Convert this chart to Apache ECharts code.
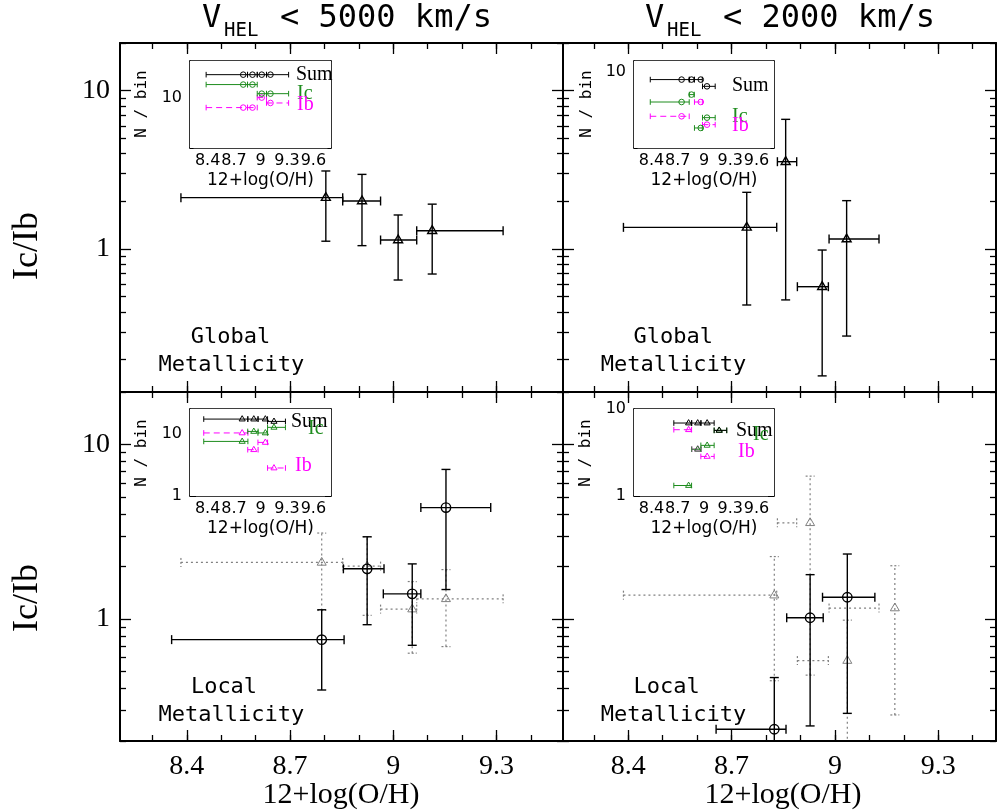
<!DOCTYPE html>
<html><head><meta charset="utf-8">
<script src="https://cdn.jsdelivr.net/npm/echarts@6/dist/echarts.min.js"></script>
<style>html,body{margin:0;padding:0;background:#fff}#c{width:997px;height:810px}</style>
</head><body><div id="c"></div>
<script>
// ---------------- tick values ----------------
const mainXMajor = [8.4, 8.7, 9.0, 9.3];
const mainXMinor = [8.3, 8.4, 8.5, 8.6, 8.7, 8.8, 8.9, 9.0, 9.1, 9.2, 9.3, 9.4];
const insetXMajor = [8.4, 8.7, 9.0, 9.3, 9.6];
const insetXMinor = [8.3, 8.4, 8.5, 8.6, 8.7, 8.8, 8.9, 9.0, 9.1, 9.2, 9.3, 9.4, 9.5, 9.6, 9.7];
const logMajor = [0.1, 1, 10, 100];
const logMinor = [0.2, 0.3, 0.4, 0.5, 0.6, 0.7, 0.8, 0.9, 2, 3, 4, 5, 6, 7, 8, 9, 20, 30, 40];

// ------------- Global metallicity, V_HEL < 5000 km/s -------------
const g5000X = [8.804, 8.909, 9.014, 9.113];
const g5000XLo = [8.383, 8.853, 8.963, 9.068];
const g5000XHi = [8.853, 8.963, 9.068, 9.319];
const g5000Ratio = [2.11, 2.01, 1.14, 1.305];
const g5000RatioLo = [1.12, 1.05, 0.637, 0.695];
const g5000RatioHi = [3.11, 2.96, 1.64, 1.92];
const g5000Sum = [20.7, 20.7, 20.7, 20.7];
const g5000Ic = [15.1, 15.1, 11.3, 11.3];
const g5000Ib = [7.25, 7.25, 9.97, 8.40];

// ------------- Global metallicity, V_HEL < 2000 km/s -------------
const g2000X = [8.744, 8.857, 8.963, 9.034];
const g2000XLo = [8.386, 8.833, 8.891, 8.983];
const g2000XHi = [8.831, 8.889, 8.981, 9.128];
const g2000Ratio = [1.37, 3.56, 0.578, 1.156];
const g2000RatioLo = [0.443, 0.477, 0.158, 0.282];
const g2000RatioHi = [2.28, 6.59, 0.985, 2.02];
const g2000Sum = [8.45, 8.45, 8.45, 7.33];
const g2000Ic = [5.27, 6.16, 3.05, 3.79];
const g2000Ib = [3.90, null, 5.27, 3.27];

// ------------- Local metallicity, V_HEL < 5000 km/s -------------
const l5000X = [8.792, 8.924, 9.055, 9.153];
const l5000XLo = [8.356, 8.855, 8.971, 9.080];
const l5000XHi = [8.857, 8.973, 9.080, 9.283];
const l5000Ratio = [0.762, 1.94, 1.394, 4.35];
const l5000RatioLo = [0.392, 0.928, 0.707, 1.476];
const l5000RatioHi = [1.13, 2.96, 2.07, 7.2];
const l5000Sum = [17.4, 17.4, 17.4, 15.96];
const l5000Ic = [7.59, 11.0, 10.4, 12.8];
const l5000Ib = [10.4, 5.58, 7.32, 2.83];

// ------------- Local metallicity, V_HEL < 2000 km/s -------------
const l2000X = [8.824, 8.928, 9.036, 9.174];
const l2000XLo = [8.655, 8.860, 8.964, 9.116];
const l2000XHi = [8.858, 8.966, 9.116, 9.26];
const l2000Ratio = [0.2336, 1.017, 1.333, null];
const l2000RatioLo = [0.1, 0.244, 0.288, null];
const l2000RatioHi = [0.462, 1.796, 2.358, null];
const l2000Sum = [6.9, 6.9, 6.9, 5.68];
const l2000Ic = [1.32, 3.45, 3.82, 5.68];
const l2000Ib = [5.78, 3.45, 2.85, null];

// ---------------- text ----------------
const titles = ['< 5000 km/s', '< 2000 km/s'];
const axisName = '12+log(O/H)';
const yName = 'Ic/Ib';
const insetYName = 'N / bin';

// ---------------- build ----------------
const GREEN = '#1e8c1e', MAGENTA = '#ff00ff', GRAY = '#808080';
const option = {animation: false, backgroundColor: '#fff', grid: [], xAxis: [], yAxis: [], series: [], graphic: {elements: []}};

const fmt = v => String(Math.round(v * 1000) / 1000);

function addPanel(c) {
  const gi = option.grid.length;
  option.grid.push({left: c.box[0], top: c.box[1], width: c.box[2], height: c.box[3],
    containLabel: false, outerBoundsMode: 'none', show: true, backgroundColor: '#fff', borderWidth: 0, z: c.z || 0});
  const lab = (vals, margin) => ({show: true, customValues: vals, formatter: fmt, margin: margin,
    color: '#000', fontSize: c.labelSize, fontFamily: c.labelFont});
  const xi = option.xAxis.length;
  const xAx = (pos, ticks, len, line, label) => ({
    type: 'value', gridIndex: gi, position: pos, min: c.x[0], max: c.x[1], silent: true,
    splitLine: {show: false}, axisPointer: {show: false},
    axisLine: {show: line, onZero: false, lineStyle: {color: '#000', width: c.frame}},
    axisTick: {show: true, inside: true, length: len, customValues: ticks, lineStyle: {color: '#000', width: c.tickW}},
    axisLabel: label || {show: false}
  });
  option.xAxis.push(xAx('bottom', c.xMajor, c.majLen, true, c.xLabels ? lab(c.xMajor, c.xMargin) : null));
  option.xAxis.push(xAx('bottom', c.xMinor, c.minLen, false));
  option.xAxis.push(xAx('top', c.xMajor, c.majLen, true));
  option.xAxis.push(xAx('top', c.xMinor, c.minLen, false));
  const yi = option.yAxis.length;
  const yAx = (pos, ticks, len, line, label) => ({
    type: 'log', logBase: 10, gridIndex: gi, position: pos, min: c.y[0], max: c.y[1], silent: true,
    splitLine: {show: false}, axisPointer: {show: false},
    axisLine: {show: line, onZero: false, lineStyle: {color: '#000', width: c.frame}},
    axisTick: {show: true, inside: true, length: len, customValues: ticks, lineStyle: {color: '#000', width: c.tickW}},
    axisLabel: label || {show: false}
  });
  option.yAxis.push(yAx('left', logMajor, c.majLen, true, c.yLabels ? lab(logMajor, c.yMargin) : null));
  option.yAxis.push(yAx('left', logMinor, c.minLen, false));
  option.yAxis.push(yAx('right', logMajor, c.majLen, true));
  option.yAxis.push(yAx('right', logMinor, c.minLen, false));
  return {xi, yi};
}

function rows(x, y, xlo, xhi, ylo, yhi) {
  const out = [];
  for (let i = 0; i < x.length; i++) {
    if (y[i] == null) continue;
    out.push([x[i], y[i], xlo ? xlo[i] : NaN, xhi ? xhi[i] : NaN,
      ylo && ylo[i] != null ? ylo[i] : NaN, yhi && yhi[i] != null ? yhi[i] : NaN]);
  }
  return out;
}

function renderer(st) {
  return function (params, api) {
    const x = api.value(0), y = api.value(1), xl = api.value(2), xh = api.value(3), yl = api.value(4), yh = api.value(5);
    const c = api.coord([x, y]);
    const ls = {stroke: st.color, lineWidth: st.width, fill: null};
    if (st.dash) ls.lineDash = st.dash;
    const cls = {stroke: st.color, lineWidth: st.width, fill: null};
    if (st.capDash) cls.lineDash = st.capDash;
    const ch = [];
    const k = st.cap;
    const L = (x1, y1, x2, y2, s) => ch.push({type: 'line', shape: {x1, y1, x2, y2}, style: s});
    if (isFinite(xl) && isFinite(xh)) {
      const a = api.coord([xl, y]), b = api.coord([xh, y]);
      L(a[0], a[1], b[0], b[1], ls);
      L(a[0], a[1] - k, a[0], a[1] + k, cls);
      L(b[0], b[1] - k, b[0], b[1] + k, cls);
    }
    if (isFinite(yl) && isFinite(yh)) {
      const a = api.coord([x, yl]), b = api.coord([x, yh]);
      L(a[0], a[1], b[0], b[1], ls);
      L(a[0] - k, a[1], a[0] + k, a[1], cls);
      L(b[0] - k, b[1], b[0] + k, b[1], cls);
    }
    const ms = {stroke: st.color, lineWidth: st.mw || st.width, fill: 'none'};
    if (st.marker === 'circle') {
      ch.push({type: 'circle', shape: {cx: c[0], cy: c[1], r: st.size}, style: ms});
    } else {
      const s = st.size;
      ch.push({type: 'polygon', shape: {points: [[c[0], c[1] - s], [c[0] - s * 0.9, c[1] + s * 0.55], [c[0] + s * 0.9, c[1] + s * 0.55]]}, style: ms});
    }
    return {type: 'group', children: ch};
  };
}

function addSeries(ax, data, st) {
  option.series.push({type: 'custom', xAxisIndex: ax.xi, yAxisIndex: ax.yi, data: data,
    clip: true, silent: true, z: st.z || 2, renderItem: renderer(st), encode: {x: 0, y: 1}});
}

const mainCfg = {majLen: 11, minLen: 6, frame: 2, tickW: 1.3, labelSize: 28, labelFont: 'Liberation Serif',
  xMajor: mainXMajor, xMinor: mainXMinor, xMargin: 12, yMargin: 10};
const insetCfg = {majLen: 6, minLen: 3.5, frame: 1.6, tickW: 1, labelSize: 16, labelFont: 'DejaVu Sans',
  xMajor: insetXMajor, xMinor: insetXMinor, xLabels: true, yLabels: true, xMargin: 5, yMargin: 8, z: 5};

const TL = addPanel(Object.assign({}, mainCfg, {box: [120, 43, 443, 349], x: [8.206, 9.493], y: [0.125, 20], xLabels: false, yLabels: true}));
const TR = addPanel(Object.assign({}, mainCfg, {box: [563, 43, 433, 349], x: [8.2105, 9.4677], y: [0.125, 20], xLabels: false, yLabels: false}));
const BL = addPanel(Object.assign({}, mainCfg, {box: [120, 392, 443, 349], x: [8.206, 9.493], y: [0.2, 20], xLabels: true, yLabels: true}));
const BR = addPanel(Object.assign({}, mainCfg, {box: [563, 392, 433, 349], x: [8.2105, 9.4677], y: [0.2, 20], xLabels: true, yLabels: false}));

const iTL = addPanel(Object.assign({}, insetCfg, {box: [190, 61, 141, 87], x: [8.2, 9.8], y: [2, 32]}));
const iTR = addPanel(Object.assign({}, insetCfg, {box: [634, 61, 140, 87], x: [8.2, 9.8], y: [2, 12.5]}));
const iBL = addPanel(Object.assign({}, insetCfg, {box: [190, 409, 141, 87], x: [8.2, 9.8], y: [1, 25.3]}));
const iBR = addPanel(Object.assign({}, insetCfg, {box: [634, 409, 140, 87], x: [8.2, 9.8], y: [1, 10]}));

const blackTri = {color: '#000', width: 1.4, cap: 4.5, marker: 'tri', size: 5};
const blackCirc = {color: '#000', width: 1.4, cap: 4.5, marker: 'circle', size: 4.7, z: 3};
const grayTri = {color: GRAY, width: 1.2, cap: 4.5, marker: 'tri', size: 5, dash: [2, 3], capDash: [2, 2], mw: 1};

// main panels
addSeries(TL, rows(g5000X, g5000Ratio, g5000XLo, g5000XHi, g5000RatioLo, g5000RatioHi), blackTri);
addSeries(TR, rows(g2000X, g2000Ratio, g2000XLo, g2000XHi, g2000RatioLo, g2000RatioHi), blackTri);
addSeries(BL, rows(l5000X, g5000Ratio, g5000XLo, g5000XHi, g5000RatioLo, g5000RatioHi), grayTri);
addSeries(BL, rows(l5000X, l5000Ratio, l5000XLo, l5000XHi, l5000RatioLo, l5000RatioHi), blackCirc);
addSeries(BR, rows(l2000X, g2000Ratio, g2000XLo, g2000XHi, g2000RatioLo, g2000RatioHi), grayTri);
addSeries(BR, rows(l2000X, l2000Ratio, l2000XLo, l2000XHi, l2000RatioLo, l2000RatioHi), blackCirc);

// insets
function insetSeries(ax, x, lo, hi, sum, ic, ib, marker) {
  const base = {width: 1, cap: 2.8, marker: marker, size: marker === 'circle' ? 2.8 : 3.4, z: 10};
  addSeries(ax, rows(x, ib, lo, hi), Object.assign({}, base, {color: MAGENTA, dash: [6, 4]}));
  addSeries(ax, rows(x, ic, lo, hi), Object.assign({}, base, {color: GREEN}));
  addSeries(ax, rows(x, sum, lo, hi), Object.assign({}, base, {color: '#000'}));
}
insetSeries(iTL, g5000X, g5000XLo, g5000XHi, g5000Sum, g5000Ic, g5000Ib, 'circle');
insetSeries(iTR, g2000X, g2000XLo, g2000XHi, g2000Sum, g2000Ic, g2000Ib, 'circle');
insetSeries(iBL, l5000X, l5000XLo, l5000XHi, l5000Sum, l5000Ic, l5000Ib, 'tri');
insetSeries(iBR, l2000X, l2000XLo, l2000XHi, l2000Sum, l2000Ic, l2000Ib, 'tri');

// ---------------- text ----------------
const G = option.graphic.elements;
function txt(s, x, y, size, family, color, opts) {
  G.push(Object.assign({type: 'text', x: x, y: y, z: 100, silent: true,
    style: {text: s, fontSize: size, fontFamily: family, fill: color || '#000', align: (opts && opts.align) || 'center', verticalAlign: 'middle'}},
    opts && opts.rotation ? {rotation: opts.rotation} : {}));
}
const MONO = 'DejaVu Sans Mono', SERIF = 'Liberation Serif';
// titles
[[202, 0], [645, 1]].forEach(([x0, i]) => {
  txt('V', x0, 19, 32, MONO, '#000', {align: 'left'});
  txt('HEL', x0 + 22, 31, 19, MONO, '#000', {align: 'left'});
  txt(titles[i], x0 + 78, 19, 32, MONO, '#000', {align: 'left'});
});
// y names
txt(yName, 28, 246, 36, SERIF, '#000', {rotation: Math.PI / 2});
txt(yName, 28, 598, 36, SERIF, '#000', {rotation: Math.PI / 2});
// x names
txt(axisName, 341, 795, 30, SERIF);
txt(axisName, 783, 795, 30, SERIF);
// panel labels
txt('Global', 230.5, 337, 22, MONO); txt('Metallicity', 231.3, 365, 22, MONO);
txt('Global', 673.3, 337, 22, MONO); txt('Metallicity', 673.5, 365, 22, MONO);
txt('Local', 224, 687, 22, MONO); txt('Metallicity', 231.3, 715, 22, MONO);
txt('Local', 666.7, 687, 22, MONO); txt('Metallicity', 673.5, 715, 22, MONO);
// inset labels
[[142, 104], [587, 104], [142, 453], [586, 453]].forEach(p => txt(insetYName, p[0], p[1], 16, MONO, '#000', {rotation: Math.PI / 2}));
[[260.5, 181], [704, 181], [260.5, 529], [704, 529]].forEach(p => txt(axisName, p[0], p[1], 17, 'DejaVu Sans'));
// inset legends
const legs = [
  [296, 75, 297, 94, 297, 105],
  [732, 86, 732, 117, 732, 126],
  [291, 422, 308, 429, 295, 466],
  [736, 431, 753, 435, 738, 452]
];
legs.forEach(l => {
  txt('Sum', l[0], l[1], 20, SERIF, '#000', {align: 'left'});
  txt('Ic', l[2], l[3], 20, SERIF, GREEN, {align: 'left'});
  txt('Ib', l[4], l[5], 20, SERIF, MAGENTA, {align: 'left'});
});

const chart = echarts.init(document.getElementById('c'), null, {renderer: 'canvas'});
chart.setOption(option);
</script></body></html>
